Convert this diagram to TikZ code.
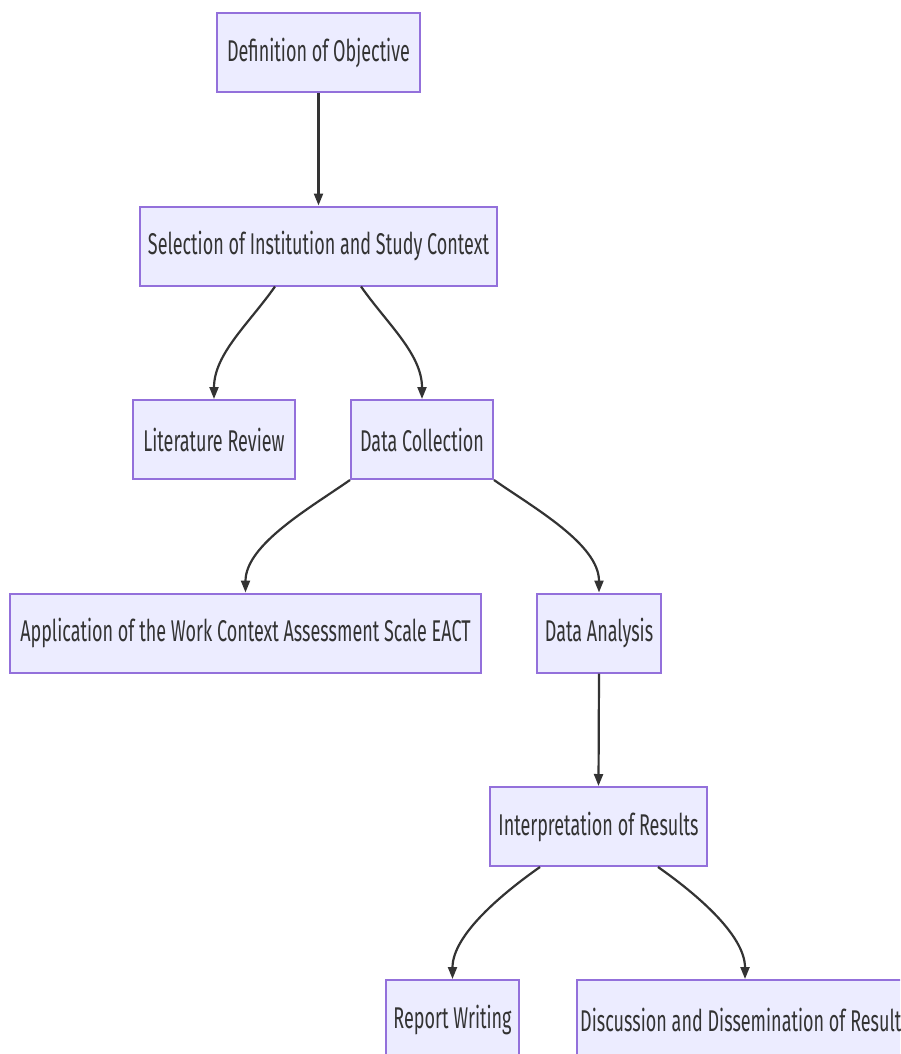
\documentclass[tikz,border=0pt]{standalone}
\usepackage{fontspec}
\setmainfont{Fira Sans}[FakeStretch=0.6]
\usetikzlibrary{arrows.meta,calc}
\definecolor{boxfill}{HTML}{ECECFF}
\definecolor{boxline}{HTML}{9370DB}
\definecolor{txt}{HTML}{333333}
\tikzset{
  stepbox/.style={draw=boxline, fill=boxfill, line width=2pt, minimum height=79pt,
    inner sep=0pt, text=txt, font=\fontsize{30}{36}\selectfont, anchor=center},
  flow/.style={draw=txt, line width=2.2pt, -{Triangle[length=12pt,width=9pt]}},
}
\begin{document}
\begin{tikzpicture}[x=1pt,y=-1pt]
\useasboundingbox (0,0) rectangle (900,1054);
\clip (0,0) rectangle (900,1054);
\node[stepbox, minimum width=203pt] (def) at (318.5,52.5) {Definition of Objective};
\node[stepbox, minimum width=357pt] (sel) at (318.5,246) {Selection of Institution and Study Context};
\node[stepbox, minimum width=162pt] (lit) at (214,439.5) {Literature Review};
\node[stepbox, minimum width=142pt] (dc) at (422,439.5) {Data Collection};
\node[stepbox, minimum width=471pt] (app) at (245.5,633) {Application of the Work Context Assessment Scale EACT};
\node[stepbox, minimum width=124pt] (da) at (599,633) {Data Analysis};
\node[stepbox, minimum width=217pt] (int) at (598.5,826.5) {Interpretation of Results};
\node[stepbox, minimum width=133pt] (rep) at (452.5,1019.5) {Report Writing};
\node[stepbox, minimum width=336pt] (dis) at (745,1019.5) {Discussion and Dissemination of Results};

\draw[flow] (def.south) -- (sel.north);
\draw[flow] ($(sel.south)+(-43.5,0)$) to[out=235,in=90,looseness=0.9] (lit.north);
\draw[flow] ($(sel.south)+(42.5,0)$) to[out=-55,in=90,looseness=0.9] (dc.north);
\draw[flow] (dc.south west) to[out=215,in=90,looseness=0.8] (app.north);
\draw[flow] (dc.south east) to[out=-35,in=90,looseness=0.8] (da.north);
\draw[flow] (da.south) -- (int.north);
\draw[flow] ($(int.south)+(-58.5,0)$) to[out=215,in=90,looseness=0.8] (rep.north);
\draw[flow] ($(int.south)+(59.5,0)$) to[out=-35,in=90,looseness=0.8] (dis.north);
\end{tikzpicture}
\end{document}
